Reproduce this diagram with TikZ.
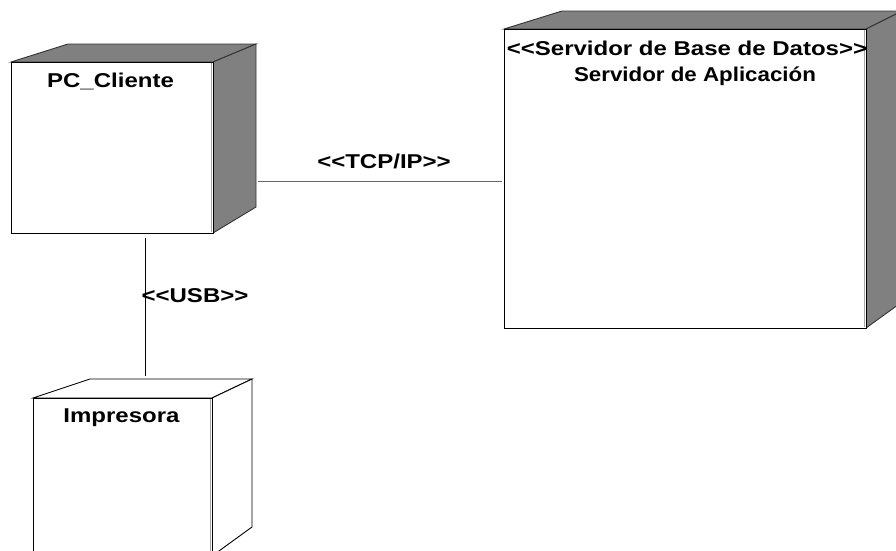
\documentclass[tikz,border=0pt]{standalone}
\usepackage{fontspec}
\newfontfamily\lblfont[FakeStretch=1.2]{Liberation Sans}
\tikzset{
  front/.style={draw=black, fill=white, line width=0.9pt},
  sideg/.style={draw=black!80, fill=black!50, line width=0.9pt},
  sidew/.style={draw=black, fill=white, line width=0.9pt},
  edgeline/.style={draw=black!35, line width=0.8pt},
  link/.style={draw=black!60, line width=0.9pt},
  usblink/.style={draw=black, line width=0.8pt},
  lbl/.style={font=\lblfont\bfseries\fontsize{20}{23}\selectfont, inner sep=0pt, text=black}
}
\begin{document}
\begin{tikzpicture}[x=1pt, y=-1pt]
\useasboundingbox (0,0) rectangle (896,550);
\clip (0,0) rectangle (896,550);

% PC_Cliente node
\path[sideg] (11,62) -- (68,44) -- (256,44) -- (213,62) -- cycle;
\path[sideg] (213,62) -- (256,44) -- (256,207) -- (213,233) -- cycle;
\node[front, minimum width=202pt, minimum height=171pt, inner sep=0pt, anchor=north west] (pc) at (11,62) {};
\draw[edgeline] (211,63) -- (211,232);
\node[lbl, anchor=base] (pclbl) at (110.5,87) {PC\_Cliente};

% Servidor node
\path[sideg] (504,29) -- (562,11) -- (902,11) -- (866,29) -- cycle;
\path[sideg] (866,29) -- (902,11) -- (902,302) -- (866,328) -- cycle;
\node[front, minimum width=362pt, minimum height=299pt, inner sep=0pt, anchor=north west] (srv) at (504,29) {};
\draw[edgeline] (864,30) -- (864,327);
\node[lbl, anchor=base] (srvlbl1) at (687,55) {<<Servidor de Base de Datos>>};
\node[lbl, anchor=base] (srvlbl2) at (695,81) {\scalebox{0.93}[1]{Servidor de Aplicación}};

% Impresora node
\path[sidew] (33,398) -- (90,379) -- (252,379) -- (212,398) -- cycle;
\path[sidew] (212,398) -- (252,379) -- (252,527) -- (212,556) -- cycle;
\node[front, minimum width=179pt, minimum height=170pt, inner sep=0pt, anchor=north west] (imp) at (33,398) {};
\draw[edgeline] (210,399) -- (210,560);
\node[lbl, anchor=base] (implbl) at (121.5,422) {Impresora};

% Connector end points
\coordinate (tcpA) at (258,181);
\coordinate (tcpB) at (502,181);
\coordinate (usbA) at (145,238);
\coordinate (usbB) at (145,376);

% Connectors
\draw[link] (tcpA) -- (tcpB);
\draw[usblink] (usbA) -- (usbB);
\node[lbl, anchor=base] (tcplbl) at (384,168) {<<TCP/IP>>};
\node[lbl, anchor=base] (usblbl) at (195,302) {<<USB>>};
\end{tikzpicture}
\end{document}
